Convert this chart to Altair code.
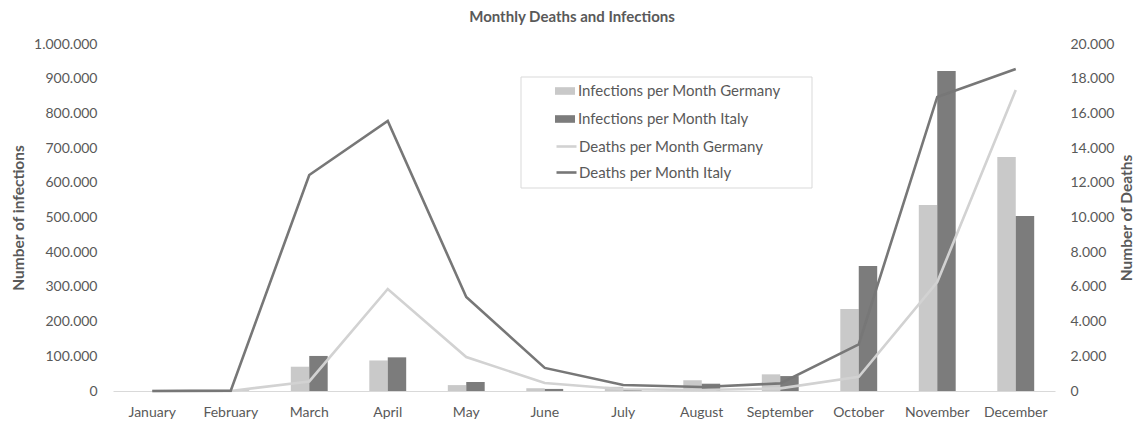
import altair as alt
import pandas as pd

months = ["January", "February", "March", "April", "May", "June", "July",
          "August", "September", "October", "November", "December"]
infections_germany = [0, 300, 70000, 88000, 17000, 8000, 12000, 31000, 48000, 236000, 536000, 674000]
infections_italy = [0, 1100, 101000, 97000, 26000, 6000, 5000, 21000, 43000, 360000, 922000, 504000]
deaths_germany = [0, 0, 550, 5880, 1960, 460, 100, 60, 150, 820, 6280, 17350]
deaths_italy = [0, 20, 12450, 15560, 5420, 1330, 350, 230, 440, 2690, 16950, 18560]

inf_series = ["Infections per Month Germany", "Infections per Month Italy"]
death_series = ["Deaths per Month Germany", "Deaths per Month Italy"]
bar_colors = ["#c9c9c9", "#7c7c7c"]
line_colors = ["#d2d2d2", "#777777"]

inf_df = pd.DataFrame({
    "month": months * 2,
    "series": [inf_series[0]] * 12 + [inf_series[1]] * 12,
    "value": infections_germany + infections_italy,
})
death_df = pd.DataFrame({
    "month": months * 2,
    "series": [death_series[0]] * 12 + [death_series[1]] * 12,
    "value": deaths_germany + deaths_italy,
})

FONT = "Lato"
TXT = "#595959"
de_fmt = "join(split(format(datum.value, ','), ','), '.')"

x_enc = alt.X(
    "month:N", sort=months, title=None,
    scale=alt.Scale(paddingInner=0.53, paddingOuter=0.265),
    axis=alt.Axis(labelAngle=0, ticks=False, domainColor="#d9d9d9", domainWidth=1,
                  labelPadding=14, labelFontSize=14, labelColor=TXT, grid=False),
)

bars = alt.Chart(inf_df).mark_bar().encode(
    x=x_enc,
    xOffset=alt.XOffset("series:N", sort=inf_series, scale=alt.Scale(paddingInner=0.0)),
    y=alt.Y("value:Q", title="Number of infections",
            scale=alt.Scale(domain=[0, 1000000], nice=False),
            axis=alt.Axis(values=list(range(0, 1000001, 100000)), labelExpr=de_fmt,
                          domain=False, ticks=False, grid=False, labelPadding=16,
                          labelFontSize=14, labelColor=TXT, titleFontSize=15.5,
                          titleFontWeight="bold", titleColor=TXT, titlePadding=7)),
    color=alt.Color("series:N", sort=inf_series,
                    scale=alt.Scale(domain=inf_series, range=bar_colors),
                    legend=alt.Legend(orient="none", legendX=442, legendY=37, title=None,
                                      symbolType="M-1,-0.38H1V0.38H-1Z", symbolSize=400,
                                      symbolStrokeWidth=0, rowPadding=10, labelOffset=3,
                                      labelFontSize=15, labelColor=TXT, labelLimit=400,
                                      padding=0)),
)

lines = alt.Chart(death_df).mark_line(strokeWidth=2.6).encode(
    x=x_enc,
    y=alt.Y("value:Q", title="Number of Deaths",
            scale=alt.Scale(domain=[0, 20000], nice=False),
            axis=alt.Axis(orient="right", values=list(range(0, 20001, 2000)), labelExpr=de_fmt,
                          domain=False, ticks=False, grid=False, labelPadding=15,
                          labelFontSize=14, labelColor=TXT, titleFontSize=15.5,
                          titleFontWeight="bold", titleColor=TXT, titlePadding=6,
                          titleAngle=270, titleBaseline="top")),
    stroke=alt.Stroke("series:N", sort=death_series,
                      scale=alt.Scale(domain=death_series, range=line_colors),
                      legend=alt.Legend(orient="none", legendX=442, legendY=91, title=None,
                                        symbolType="stroke", symbolSize=400,
                                        symbolStrokeWidth=2.6, rowPadding=6, labelOffset=1,
                                        labelFontSize=15, labelColor=TXT, labelLimit=400,
                                        padding=0)),
)

box = alt.Chart(pd.DataFrame({"k": [0]})).mark_rect(
    fill="white", stroke="#d9d9d9", strokeWidth=1
).encode(
    x=alt.value(408), x2=alt.value(699), y=alt.value(33), y2=alt.value(144)
)

chart = alt.layer(box, bars, lines).resolve_scale(
    y="independent", color="independent", stroke="independent"
).properties(
    width=942, height=347,
    title=alt.TitleParams("Monthly Deaths and Infections", fontSize=15, fontWeight="bold",
                          color=TXT, font=FONT, offset=12, dx=-12, anchor="middle"),
    autosize=alt.AutoSizeParams(type="none"),
    padding={"left": 113, "top": 44, "right": 81, "bottom": 31},
    background="white",
).configure(font=FONT).configure_view(stroke=None)

chart.save("out.html", embed_options={"renderer": "svg", "actions": False})
